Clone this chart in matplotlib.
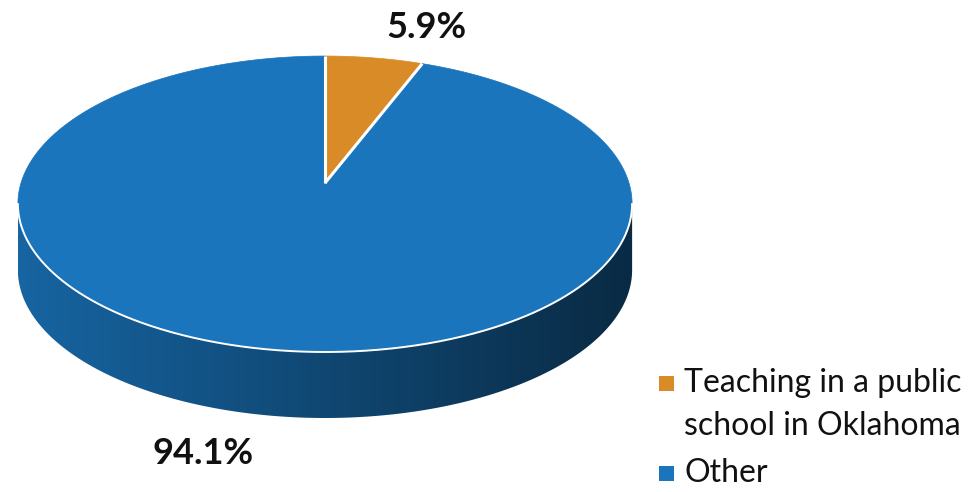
import numpy as np
import matplotlib.pyplot as plt
from matplotlib.colors import to_rgb
from matplotlib.patches import Polygon, Rectangle

labels = ["Teaching in a public\nschool in Oklahoma", "Other"]
shares = [5.9, 94.1]
colors = ["#d98b27", "#1a75bc"]

# layout of the projected pie (pixels)
cx, cy = 325, 183
rad_x, rad_y = 304, 145
persp = 0.142
depth = 66


def project(theta_deg):
    t = np.radians(theta_deg)
    u = np.sin(t)
    v = -np.cos(t)
    d = 1 - persp * v
    return cx + rad_x * u / d, cy + rad_y * v / d


def arc(a0, a1, n=400):
    th = np.linspace(a0, a1, n)
    x, y = project(th)
    return np.column_stack([x, y])


fig = plt.figure(figsize=(9.78, 4.92), dpi=100)
ax = fig.add_axes([0, 0, 1, 1])
ax.axis("off")

# wedge angles, clockwise from 12 o'clock
bounds = np.concatenate([[0], np.cumsum(shares) / np.sum(shares) * 360])

# front (visible) part of the rim
th_all = np.linspace(0, 360, 3601)
xs, _ = project(th_all)
t_right = th_all[np.argmax(xs)]
t_left = th_all[np.argmin(xs)]

# side walls with a left-to-right shading
for i, col in enumerate(colors):
    a0 = max(bounds[i], t_right)
    a1 = min(bounds[i + 1], t_left)
    if a1 <= a0:
        continue
    top = arc(a0, a1)
    bottom = top[::-1] + [0, depth]
    wall = Polygon(np.vstack([top, bottom]), closed=True, facecolor="none",
                   edgecolor="none")
    ax.add_patch(wall)
    rgb = np.array(to_rgb(col))
    ramp = np.linspace(0.86, 0.36, 256)[:, None] * rgb[None, :]
    x0, x1 = top[:, 0].min(), top[:, 0].max()
    img = ax.imshow(ramp[None, :, :], extent=[x0, x1, top[:, 1].max() + depth, top[:, 1].min()],
                    aspect="auto", interpolation="bilinear", zorder=1)
    img.set_clip_path(wall)

ax.set_xlim(0, 978)
ax.set_ylim(492, 0)

# top faces
for i, col in enumerate(colors):
    pts = np.vstack([[cx, cy], arc(bounds[i], bounds[i + 1])])
    ax.add_patch(Polygon(pts, closed=True, facecolor=col, edgecolor=col,
                         linewidth=0.5, zorder=2))

# white separators and front rim highlight
for b in bounds[:-1]:
    ex, ey = project(b)
    ax.plot([cx, ex], [cy, ey], color="white", lw=2.2, zorder=3,
            solid_capstyle="butt")
front = arc(t_right, t_left)
ax.plot(front[:, 0], front[:, 1], color="white", lw=1.4, zorder=3)

# data labels
ax.text(426, 27, f"{shares[0]:.1f}%", ha="center", va="center",
        fontsize=26, fontweight="bold", family="Lato", color="#111111")
ax.text(203, 454, f"{shares[1]:.1f}%", ha="center", va="center",
        fontsize=26, fontweight="bold", family="Lato", color="#111111")

# legend
legend_y = [384, 474]
for lab, col, ly in zip(labels, colors, legend_y):
    ax.add_patch(Rectangle((659, ly - 8), 15, 15, facecolor=col,
                           edgecolor="none"))
    ax.text(684, ly - 1, lab.split("\n")[0], ha="left", va="center",
            fontsize=23, family="Lato", color="#111111")
    if "\n" in lab:
        ax.text(684, ly + 42, lab.split("\n")[1], ha="left", va="center",
                fontsize=23, family="Lato", color="#111111")

fig.savefig("out.png", dpi=100)
